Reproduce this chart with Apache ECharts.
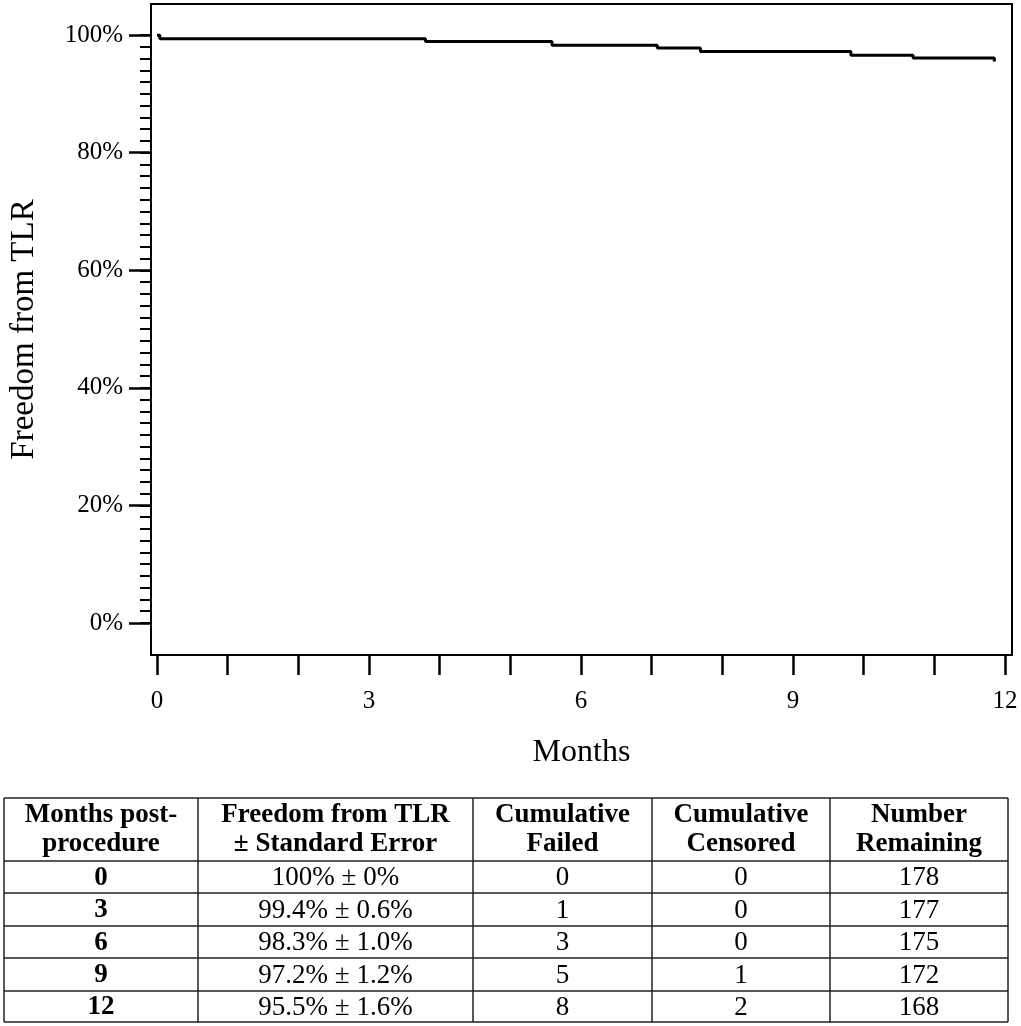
<!DOCTYPE html>
<html>
<head>
<meta charset="utf-8">
<script src="https://cdn.jsdelivr.net/npm/echarts@6/dist/echarts.min.js"></script>
<style>
  html, body { margin: 0; padding: 0; background: #fff; }
  #main { width: 1021px; height: 1026px; }
</style>
</head>
<body>
<div id="main"></div>
<script>
// Kaplan-Meier step points: [months, freedom from TLR %]
var kmMonths = [0, 0.04, 3.8, 5.59, 7.08, 7.69, 9.82, 10.7, 11.85];
var kmFreedom = [100, 99.4, 98.9, 98.3, 97.8, 97.2, 96.6, 96.1, 95.5];

var xTicks = [0, 1, 2, 3, 4, 5, 6, 7, 8, 9, 10, 11, 12];
var xLabels = [0, 3, 6, 9, 12];
var yMajor = [0, 20, 40, 60, 80, 100];
var yMinor = [];
for (var i = 0; i <= 100; i += 2) {
    yMinor.push(i);
}

// table under the chart
var tableHeader = [
    ['Months post-', 'procedure'],
    ['Freedom from TLR', '\u00b1 Standard Error'],
    ['Cumulative', 'Failed'],
    ['Cumulative', 'Censored'],
    ['Number', 'Remaining']
];
var tableMonths = ['0', '3', '6', '9', '12'];
var tableFreedom = ['100% \u00b1 0%', '99.4% \u00b1 0.6%', '98.3% \u00b1 1.0%', '97.2% \u00b1 1.2%', '95.5% \u00b1 1.6%'];
var tableFailed = [0, 1, 3, 5, 8];
var tableCensored = [0, 0, 0, 1, 2];
var tableRemaining = [178, 177, 175, 172, 168];

var font = 'Liberation Serif';
var colX = [4, 198, 473, 652, 830, 1008];
var rowY = [798, 861, 893, 926, 958, 991, 1022];

var kmData = [];
for (var k = 0; k < kmMonths.length; k++) {
    kmData.push([kmMonths[k], kmFreedom[k]]);
}

var graphics = [];
function hline(y) {
    graphics.push({type: 'line', shape: {x1: colX[0], y1: y, x2: colX[colX.length - 1], y2: y},
        style: {stroke: '#222', lineWidth: 1.5}});
}
function vline(x) {
    graphics.push({type: 'line', shape: {x1: x, y1: rowY[0], x2: x, y2: rowY[rowY.length - 1]},
        style: {stroke: '#222', lineWidth: 1.5}});
}
function cell(txt, c, yc, bold) {
    graphics.push({type: 'text', x: (colX[c] + colX[c + 1]) / 2, y: yc,
        style: {text: String(txt), font: (bold ? 'bold ' : '') + '27px "' + font + '"',
            fill: '#000', textAlign: 'center', textVerticalAlign: 'middle'}});
}
rowY.forEach(hline);
colX.forEach(vline);
tableHeader.forEach(function (h, c) {
    cell(h[0], c, rowY[0] + 17, true);
    cell(h[1], c, rowY[0] + 46, true);
});
for (var r = 0; r < tableMonths.length; r++) {
    var yc = (rowY[r + 1] + rowY[r + 2]) / 2 + 1;
    cell(tableMonths[r], 0, yc, true);
    cell(tableFreedom[r], 1, yc, false);
    cell(tableFailed[r], 2, yc, false);
    cell(tableCensored[r], 3, yc, false);
    cell(tableRemaining[r], 4, yc, false);
}

var chart = echarts.init(document.getElementById('main'));
var option = {
    animation: false,
    backgroundColor: '#fff',
    grid: {
        left: 149, right: 9, top: 4, bottom: 371,
        show: true, borderColor: '#000', borderWidth: 2
    },
    xAxis: {
        type: 'value',
        min: -0.085,
        max: 12.1,
        name: 'Months',
        nameLocation: 'middle',
        nameGap: 82,
        nameTextStyle: {fontFamily: font, fontSize: 32, color: '#000'},
        axisLine: {show: true, onZero: false, lineStyle: {color: '#000', width: 2}},
        axisTick: {show: true, length: 20, customValues: xTicks, lineStyle: {color: '#000', width: 2.5}},
        axisLabel: {customValues: xLabels, margin: 34, fontFamily: font, fontSize: 25, color: '#000'},
        splitLine: {show: false}
    },
    yAxis: [{
        type: 'value',
        position: 'left',
        min: -5.45,
        max: 105.3,
        name: 'Freedom from TLR',
        nameLocation: 'middle',
        nameGap: 110,
        nameTextStyle: {fontFamily: font, fontSize: 33, color: '#000'},
        axisLine: {show: true, onZero: false, lineStyle: {color: '#000', width: 2}},
        axisTick: {show: true, length: 22, customValues: yMajor, lineStyle: {color: '#000', width: 2.5}},
        axisLabel: {customValues: yMajor, margin: 28, fontFamily: font, fontSize: 25, color: '#000',
            formatter: function (v) { return v + '%'; }},
        splitLine: {show: false}
    }, {
        type: 'value',
        position: 'left',
        offset: 0,
        min: -5.45,
        max: 105.3,
        axisLine: {show: false, onZero: false},
        axisTick: {show: true, length: 11, customValues: yMinor, lineStyle: {color: '#000', width: 2}},
        axisLabel: {show: false},
        splitLine: {show: false}
    }],
    series: [{
        type: 'line',
        step: 'end',
        data: kmData,
        symbol: 'none',
        lineStyle: {color: '#000', width: 3}
    }],
    graphic: graphics
};
chart.setOption(option);
</script>
</body>
</html>
